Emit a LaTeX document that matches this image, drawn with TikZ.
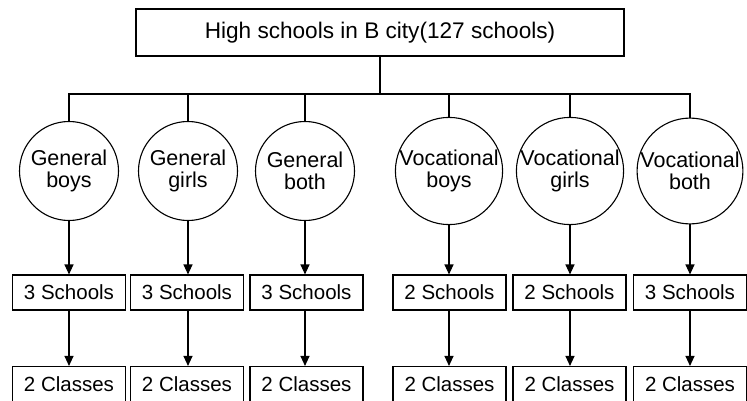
\documentclass[tikz,border=0pt]{standalone}
\usepackage{fontspec}
\setmainfont{Liberation Sans}
\usetikzlibrary{arrows.meta}
\tikzset{
  box/.style={draw, line width=1.1pt, minimum width=113pt, minimum height=35pt, inner sep=0pt, font=\fontsize{20.5}{22}\selectfont},
  grp/.style={draw, circle, line width=1.1pt, minimum size=99pt, inner sep=0pt, align=center, font=\fontsize{21.5}{21.5}\selectfont},
  arr/.style={line width=1.1pt, -{Triangle[length=10pt,width=9pt]}},
}
\begin{document}
\begin{tikzpicture}[x=1pt, y=-1pt, line width=1.1pt]
\useasboundingbox (0,0) rectangle (747,401);
\node[box, minimum width=488pt, minimum height=47pt, font=\fontsize{22.6}{24}\selectfont] (top) at (380,32.5){High schools in B city(127 schools)};
\coordinate (bus) at (380,94);
\node[grp] (c1) at (69,171){General\\boys};
\node[grp] (c2) at (188,171){General\\girls};
\node[grp] (c3) at (305,171){General\\both};
\node[grp] (c4) at (449,171){Vocational\\boys};
\node[grp] (c5) at (570,171){Vocational\\girls};
\node[grp] (c6) at (690,171){Vocational\\both};
\node[box] (s1) at (69,292.5){3 Schools};
\node[box] (s2) at (187,292.5){3 Schools};
\node[box] (s3) at (306.5,292.5){3 Schools};
\node[box] (s4) at (449.5,292.5){2 Schools};
\node[box] (s5) at (569.5,292.5){2 Schools};
\node[box] (s6) at (690,292.5){3 Schools};
\node[box] (k1) at (69,384){2 Classes};
\node[box] (k2) at (187,384){2 Classes};
\node[box] (k3) at (306.5,384){2 Classes};
\node[box] (k4) at (449.5,384){2 Classes};
\node[box] (k5) at (569.5,384){2 Classes};
\node[box] (k6) at (690,384){2 Classes};
\draw (top.south) -- (bus);
\draw (c1.north) -- (c1.north |- bus) -- (c6.north |- bus) -- (c6.north);
\foreach \i in {2,3,4,5}{
  \draw (c\i.north) -- (c\i.north |- bus);
}
\foreach \i in {1,...,6}{
  \draw[arr] (c\i.south) -- (c\i.south |- s\i.north);
  \draw[arr] (s\i.south -| c\i.south) -- (c\i.south |- k\i.north);
}
\end{tikzpicture}
\end{document}
